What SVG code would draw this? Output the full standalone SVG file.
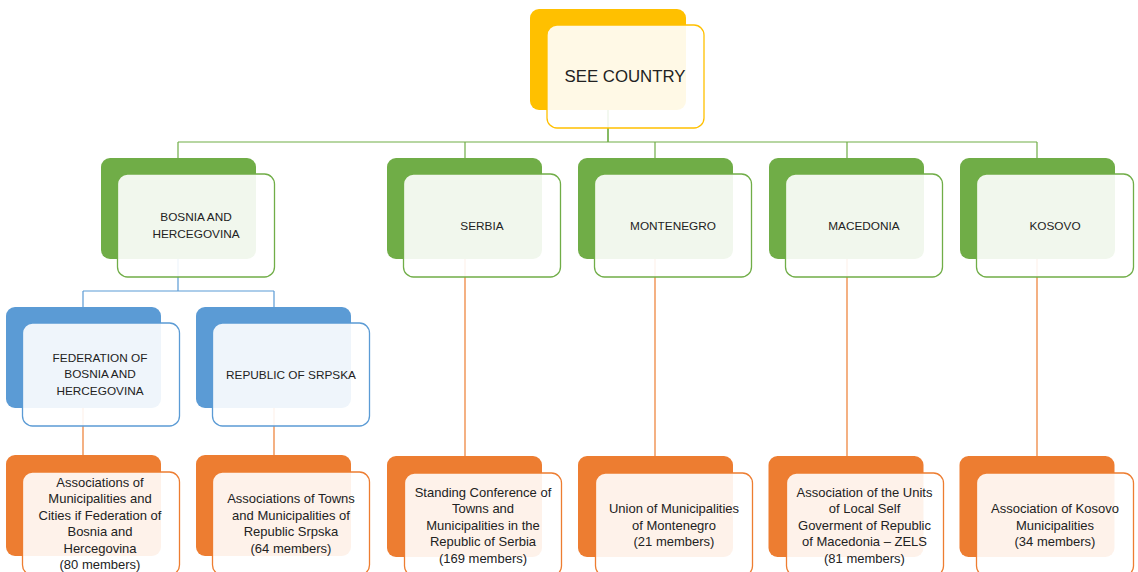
<svg xmlns="http://www.w3.org/2000/svg" width="1138" height="572" viewBox="0 0 1138 572">
<style>
.bk{stroke:none}
.fr{fill:#ffffff;fill-opacity:0.9;stroke-width:1.3}
.y .bk{fill:#FFC000}.y .fr{stroke:#FFC000}
.g .bk{fill:#70AD47}.g .fr{stroke:#70AD47}
.b .bk{fill:#5B9BD5}.b .fr{stroke:#5B9BD5}
.o .bk{fill:#ED7D31}.o .fr{stroke:#ED7D31}
text{font-family:"Liberation Sans",Arial,sans-serif;fill:#222222;text-anchor:middle}
.t1{font-size:16.8px}
.t2{font-size:11.8px}
.t3{font-size:13px}
.cg{stroke:#70AD47;fill:none;stroke-width:1.2}
.cb{stroke:#5B9BD5;fill:none;stroke-width:1.2}
.co{stroke:#ED7D31;fill:none;stroke-width:1.2}
</style>
<rect width="1138" height="572" fill="#ffffff"/>
<g id="connectors">
<path class="cg" d="M608 110V142M178 142H1037M178 142V158M465 142V158M655 142V158M847 142V158M1037 142V158"/>
<path class="cg" d="M608 110V142" stroke-width="2"/>
<path class="cb" d="M178 259V291M83 291H274M83 291V307M274 291V307"/>
<path class="co" d="M83 407V455M274 407V455M465 259V456M655 259V456M847 259V456M1037 259V456"/>
</g>
<g id="see-country" class="y">
<rect class="bk" x="530" y="9" width="156" height="101" rx="9"/>
<rect class="fr" x="547" y="25" width="157" height="103" rx="10"/>
<text class="t1" x="625" y="82">SEE COUNTRY</text>
</g>
<g id="bosnia" class="g">
<rect class="bk" x="101" y="158" width="155" height="101" rx="9"/>
<rect class="fr" x="117.5" y="174" width="157" height="103" rx="10"/>
<text class="t2" x="196" y="220.5">BOSNIA AND</text>
<text class="t2" x="196" y="237.5">HERCEGOVINA</text>
</g>
<g id="serbia" class="g">
<rect class="bk" x="387" y="158" width="155" height="101" rx="9"/>
<rect class="fr" x="403.5" y="174" width="157" height="103" rx="10"/>
<text class="t2" x="482" y="229.5">SERBIA</text>
</g>
<g id="montenegro" class="g">
<rect class="bk" x="578" y="158" width="155" height="101" rx="9"/>
<rect class="fr" x="594.5" y="174" width="157" height="103" rx="10"/>
<text class="t2" x="673" y="229.5">MONTENEGRO</text>
</g>
<g id="macedonia" class="g">
<rect class="bk" x="769" y="158" width="155" height="101" rx="9"/>
<rect class="fr" x="785.5" y="174" width="157" height="103" rx="10"/>
<text class="t2" x="864" y="229.5">MACEDONIA</text>
</g>
<g id="kosovo" class="g">
<rect class="bk" x="960" y="158" width="155" height="101" rx="9"/>
<rect class="fr" x="976.5" y="174" width="157" height="103" rx="10"/>
<text class="t2" x="1055" y="229.5">KOSOVO</text>
</g>
<g id="federation" class="b">
<rect class="bk" x="6" y="307" width="155" height="101" rx="9"/>
<rect class="fr" x="22.5" y="323" width="157" height="103" rx="10"/>
<text class="t2" x="100" y="361.5">FEDERATION OF</text>
<text class="t2" x="100" y="378">BOSNIA AND</text>
<text class="t2" x="100" y="394.5">HERCEGOVINA</text>
</g>
<g id="srpska" class="b">
<rect class="bk" x="196" y="307" width="155" height="101" rx="9"/>
<rect class="fr" x="212.5" y="323" width="157" height="103" rx="10"/>
<text class="t2" x="291" y="378.5">REPUBLIC OF SRPSKA</text>
</g>
<g id="assoc-federation" class="o">
<rect class="bk" x="6" y="455" width="155" height="101" rx="9"/>
<rect class="fr" x="22.5" y="472" width="157" height="103" rx="10"/>
<text class="t3" x="100" y="486.5">Associations of</text>
<text class="t3" x="100" y="503">Municipalities and</text>
<text class="t3" x="100" y="519.5">Cities if Federation of</text>
<text class="t3" x="100" y="536">Bosnia and</text>
<text class="t3" x="100" y="552.5">Hercegovina</text>
<text class="t3" x="100" y="569">(80 members)</text>
</g>
<g id="assoc-srpska" class="o">
<rect class="bk" x="196" y="455" width="155" height="101" rx="9"/>
<rect class="fr" x="212.5" y="472" width="157" height="103" rx="10"/>
<text class="t3" x="291" y="503">Associations of Towns</text>
<text class="t3" x="291" y="519.5">and Municipalities of</text>
<text class="t3" x="291" y="536">Republic Srpska</text>
<text class="t3" x="291" y="552.5">(64 members)</text>
</g>
<g id="assoc-serbia" class="o">
<rect class="bk" x="387" y="456" width="155" height="101" rx="9"/>
<rect class="fr" x="404.5" y="473" width="157" height="103" rx="10"/>
<text class="t3" x="483" y="496.5">Standing Conference of</text>
<text class="t3" x="483" y="513">Towns and</text>
<text class="t3" x="483" y="529.5">Municipalities in the</text>
<text class="t3" x="483" y="546">Republic of Serbia</text>
<text class="t3" x="483" y="562.5">(169 members)</text>
</g>
<g id="assoc-montenegro" class="o">
<rect class="bk" x="578" y="456" width="155" height="101" rx="9"/>
<rect class="fr" x="595.5" y="473" width="157" height="103" rx="10"/>
<text class="t3" x="674" y="513">Union of Municipalities</text>
<text class="t3" x="674" y="529.5">of Montenegro</text>
<text class="t3" x="674" y="546">(21 members)</text>
</g>
<g id="assoc-macedonia" class="o">
<rect class="bk" x="768.5" y="456" width="155" height="101" rx="9"/>
<rect class="fr" x="786.5" y="473" width="157" height="103" rx="10"/>
<text class="t3" x="864.5" y="496.5">Association of the Units</text>
<text class="t3" x="864.5" y="513">of Local Self</text>
<text class="t3" x="864.5" y="529.5">Goverment of Republic</text>
<text class="t3" x="864.5" y="546">of Macedonia – ZELS</text>
<text class="t3" x="864.5" y="562.5">(81 members)</text>
</g>
<g id="assoc-kosovo" class="o">
<rect class="bk" x="959.5" y="456" width="155" height="101" rx="9"/>
<rect class="fr" x="976.5" y="473" width="157" height="103" rx="10"/>
<text class="t3" x="1055" y="513">Association of Kosovo</text>
<text class="t3" x="1055" y="529.5">Municipalities</text>
<text class="t3" x="1055" y="546">(34 members)</text>
</g>
</svg>
